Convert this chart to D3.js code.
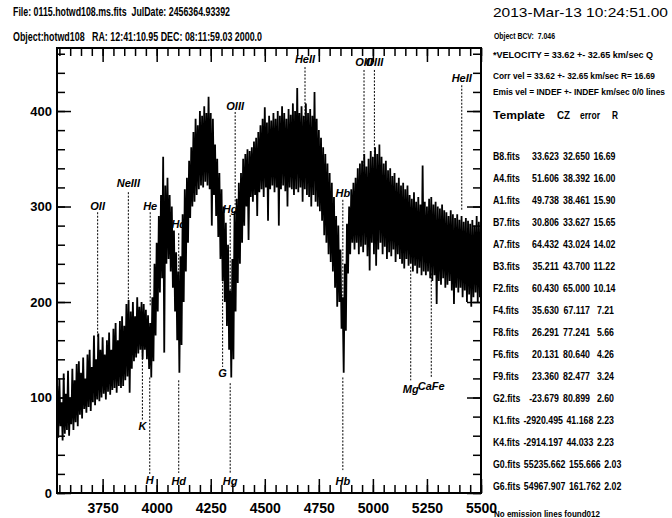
<!DOCTYPE html>
<html>
<head>
<meta charset="utf-8">
<script src="https://cdn.jsdelivr.net/npm/d3@7"></script>
<style>
  body { margin: 0; background: white; }
  svg { display: block; font-family: "Liberation Sans", Arial, sans-serif; }
  text { white-space: pre; }
</style>
</head>
<body>
<div id="chart"></div>
<script>
// spectrum.js: xcsao style cross-correlation plot of hotwd108

// Header and side texts
const fileLine = "File: 0115.hotwd108.ms.fits  JulDate: 2456364.93392";
const dateLine = "2013-Mar-13 10:24:51.00";
const objectLine = "Object:hotwd108   RA: 12:41:10.95 DEC: 08:11:59.03 2000.0";
const bcvLine = "Object BCV:  7.046";
const velLine = "*VELOCITY = 33.62 +- 32.65 km/sec Q";
const corrLine = "Corr vel = 33.62 +- 32.65 km/sec R= 16.69";
const emisLine = "Emis vel = INDEF +- INDEF km/sec 0/0 lines";
const noEmisLine = "No emission lines found012";

// Template table
const tableHeader = ["Template", "CZ", "error", "R"];
const templateNames = ["B8.fits", "A4.fits", "A1.fits", "B7.fits", "A7.fits", "B3.fits", "F2.fits", "F4.fits",
  "F8.fits", "F6.fits", "F9.fits", "G2.fits", "K1.fits", "K4.fits", "G0.fits", "G6.fits"];
const templateCZ = ["33.623", "51.606", "49.738", "30.806", "64.432", "35.211", "60.430", "35.630",
  "26.291", "20.131", "23.360", "-23.679", "-2920.495", "-2914.197", "55235.662", "54967.907"];
const templateErr = ["32.650", "38.392", "38.461", "33.627", "43.024", "43.700", "65.000", "67.117",
  "77.241", "80.640", "82.477", "80.899", "41.168", "44.033", "155.666", "161.762"];
const templateR = ["16.69", "16.00", "15.90", "15.65", "14.02", "11.22", "10.14", "7.21",
  "5.66", "4.26", "3.24", "2.60", "2.23", "2.23", "2.03", "2.02"];

// Axis tick labels
const xTickLabels = [3750, 4000, 4250, 4500, 4750, 5000, 5250, 5500];
const yTickLabels = [0, 100, 200, 300, 400];

// Spectrum: one flux value every 5 A starting at 3540 A (100 A per row)
const fluxStart = 3540;
const fluxStep = 5;
const flux = [
  112, 58, 120, 70, 95, 55, 125, 62, 104, 66, 128, 60, 100, 72, 130, 66, 118, 74, 135, 70,
  138, 82, 126, 78, 142, 88, 120, 84, 145, 90, 150, 86, 132, 95, 165, 92, 140, 98, 167, 96,
  150, 100, 163, 104, 145, 98, 160, 106, 168, 103, 150, 108, 172, 110, 178, 105, 160, 112, 180, 110,
  185, 112, 175, 118, 198, 122, 202, 105, 190, 130, 200, 138, 185, 142, 205, 146, 195, 150, 200, 140,
  198, 150, 192, 140, 186, 130, 178, 121, 205, 138, 240, 165, 262, 190, 290, 210, 312, 225, 352, 147,
  322, 240, 330, 245, 312, 232, 300, 215, 275, 190, 252, 160, 232, 126, 248, 155, 292, 200, 318, 232,
  330, 262, 348, 288, 362, 300, 378, 305, 392, 312, 385, 318, 400, 322, 395, 320, 405, 326, 398, 322,
  415, 318, 398, 280, 392, 312, 365, 290, 350, 268, 335, 245, 318, 222, 300, 200, 283, 175, 260, 150,
  212, 121, 245, 140, 295, 190, 308, 220, 325, 240, 335, 262, 350, 280, 355, 300, 360, 265, 358, 310,
  362, 305, 368, 312, 372, 290, 378, 315, 385, 318, 392, 310, 404, 320, 388, 285, 395, 318, 390, 322,
  398, 315, 392, 320, 400, 280, 395, 318, 405, 322, 398, 316, 392, 300, 402, 320, 396, 318, 408, 312,
  400, 318, 424, 315, 398, 320, 405, 305, 395, 318, 408, 312, 398, 310, 402, 300, 395, 312, 420, 305,
  392, 300, 380, 295, 372, 285, 362, 270, 355, 262, 345, 250, 335, 242, 325, 232, 310, 215, 290, 195,
  280, 200, 255, 172, 205, 126, 240, 170, 282, 230, 300, 250, 318, 262, 325, 255, 330, 262, 340, 250,
  345, 258, 348, 252, 355, 260, 342, 248, 350, 233, 358, 262, 352, 250, 362, 238, 355, 255, 365, 262,
  352, 250, 345, 258, 348, 245, 338, 252, 340, 248, 332, 255, 335, 242, 325, 250, 330, 245, 322, 240,
  325, 235, 318, 245, 322, 238, 312, 240, 308, 232, 315, 238, 305, 230, 310, 236, 302, 228, 343, 232,
  305, 228, 300, 232, 308, 225, 310, 222, 302, 228, 305, 198, 300, 222, 298, 218, 302, 225, 296, 215,
  294, 218, 290, 222, 296, 212, 292, 198, 288, 215, 292, 210, 286, 215, 290, 205, 284, 212, 288, 200,
  285, 208, 282, 195, 286, 205, 280, 210, 290, 200, 284, 205, 288
];

// Emission lines marked above the spectrum (label level, line top and line bottom in flux units)
const emisNames = ["OII", "NeIII", "He", "Hd", "Hg", "OIII", "HeII", "Hb", "OIII", "OIII", "HeII"];
const emisWaves = [3727, 3869, 3970, 4102, 4340, 4363, 4686, 4861, 4959, 5007, 5411];
const emisLabel = [296, 320, 296, 278, 293, 401, 450, 310, 447, 447, 430];
const emisTop = [294, 315, 294, 272, 291, 399, 446, 307, 443, 443, 427];
const emisBottom = [163, 202, 195, 178, 199, 300, 380, 199, 341, 349, 296];

// Absorption lines marked below the spectrum
const absNames = ["K", "H", "Hd", "G", "Hg", "Hb", "Mg", "CaFe"];
const absWaves = [3934, 3968, 4102, 4305, 4340, 4861, 5175, 5270];
const absTop = [178, 121, 118, 258, 115, 121, 237, 230];
const absBottom = [76, 19, 21, 132, 21, 24, 118, 121];
const absLabel = [66, 9, 8, 121, 8, 8, 105, 108];

const width = 672;
const height = 518;
const margin = { top: 48, bottom: 25, left: 57, right: 191 };

const svg = d3.select("#chart")
  .append("svg")
  .attr("width", width)
  .attr("height", height);

const x = d3.scaleLinear()
  .domain([3539, 5500])
  .range([margin.left, width - margin.right]);

const y = d3.scaleLinear()
  .domain([0, 466])
  .range([height - margin.bottom, margin.top]);

// helper for the squeezed texts round the plot
function addText(px, py, str, size, len, weight) {
  const t = svg.append("text")
    .attr("x", px)
    .attr("y", py)
    .attr("font-size", size)
    .attr("font-weight", weight || "bold")
    .text(str);
  if (len) {
    t.attr("textLength", len).attr("lengthAdjust", "spacingAndGlyphs");
  }
  return t;
}

function createHeader() {
  addText(13, 16, fileLine, 12, 217);
  addText(493, 17, dateLine, 13.5, 175, "normal");
  addText(13, 41, objectLine, 12, 249);
  addText(494, 39, bcvLine, 8.5, 61);
  addText(493, 58, velLine, 9, 160);
  addText(493, 79, corrLine, 9, 162);
  addText(493, 95, emisLine, 8.8, 172);
  addText(494, 517, noEmisLine, 9, 106);

  // table header, columns
  const headX = [493, 557, 580, 612];
  const headLen = [52, 13, 20, 6];
  tableHeader.forEach((h, i) => addText(headX[i], 119, h, 11.5, headLen[i]));
}

// Table of templates, narrowed glyphs like the original
function createTable() {
  const sx = 0.88;
  const x0 = 493;
  const g = svg.append("g")
    .attr("transform", `translate(${x0},0) scale(${sx},1)`)
    .attr("font-size", 10)
    .attr("font-weight", "bold");

  // right edges of the number columns (page px), turned into local units
  const colRight = [559, 590, 614].map(v => (v - x0) / sx);

  templateNames.forEach((name, i) => {
    const yRow = 160 + i * 22;
    const t = g.append("text").attr("x", 0).attr("y", yRow).text(name);
    let cursor = t.node().getComputedTextLength();
    [templateCZ[i], templateErr[i], templateR[i]].forEach((s, j) => {
      const tt = g.append("text")
        .attr("y", yRow)
        .attr("text-anchor", "end")
        .text(s);
      const w = tt.node().getComputedTextLength();
      const right = Math.max(colRight[j], cursor + 4 + w);
      tt.attr("x", right);
      cursor = right;
    });
  });
}

function createAxes() {
  const majorLen = 14;
  const minorLen = 8;
  const xMinor = d3.range(3550, 5501, 50);
  const yMinor = d3.range(0, 461, 20);

  function styleAxis(g) {
    g.select(".domain").remove();
    g.selectAll("line").attr("stroke", "black").attr("stroke-width", 1.5);
    g.attr("font-family", null);
    g.selectAll("text")
      .attr("font-size", 14)
      .attr("font-weight", "bold")
      .attr("fill", "black");
  }

  // bottom and top
  svg.append("g").attr("transform", `translate(0,${y(0)})`)
    .call(d3.axisBottom(x).tickValues(xMinor).tickSize(-minorLen).tickFormat(""))
    .call(styleAxis);
  svg.append("g").attr("transform", `translate(0,${y(0)})`)
    .call(d3.axisBottom(x).tickValues(xTickLabels).tickSize(-majorLen).tickPadding(10).tickFormat(d3.format("d")))
    .call(styleAxis);
  svg.append("g").attr("transform", `translate(0,${y(466)})`)
    .call(d3.axisTop(x).tickValues(xMinor).tickSize(-minorLen).tickFormat(""))
    .call(styleAxis);
  svg.append("g").attr("transform", `translate(0,${y(466)})`)
    .call(d3.axisTop(x).tickValues(xTickLabels).tickSize(-majorLen).tickFormat(""))
    .call(styleAxis);

  // left and right
  svg.append("g").attr("transform", `translate(${x(3539)},0)`)
    .call(d3.axisLeft(y).tickValues(yMinor).tickSize(-minorLen).tickFormat(""))
    .call(styleAxis);
  svg.append("g").attr("transform", `translate(${x(3539)},0)`)
    .call(d3.axisLeft(y).tickValues(yTickLabels).tickSize(-majorLen).tickPadding(5).tickFormat(d3.format("d")))
    .call(styleAxis)
    .selectAll("text").attr("font-size", 13);
  svg.append("g").attr("transform", `translate(${x(5500)},0)`)
    .call(d3.axisRight(y).tickValues(yMinor).tickSize(-minorLen).tickFormat(""))
    .call(styleAxis);
  svg.append("g").attr("transform", `translate(${x(5500)},0)`)
    .call(d3.axisRight(y).tickValues(yTickLabels).tickSize(-majorLen).tickFormat(""))
    .call(styleAxis);

  // frame
  svg.append("rect")
    .attr("x", x(3539))
    .attr("y", y(466))
    .attr("width", x(5500) - x(3539))
    .attr("height", y(0) - y(466))
    .attr("fill", "none")
    .attr("stroke", "black")
    .attr("stroke-width", 2);
}

function createSpectrum() {
  svg.append("clipPath").attr("id", "plotclip")
    .append("rect")
    .attr("x", x(3539))
    .attr("y", y(466))
    .attr("width", x(5500) - x(3539))
    .attr("height", y(0) - y(466));

  const points = flux.map((f, i) => [fluxStart + i * fluxStep, f]);

  const line = d3.line()
    .x(d => x(d[0]))
    .y(d => y(d[1]));

  // thick enough stroke so the noise reads as a solid band
  svg.append("path")
    .datum(points)
    .attr("clip-path", "url(#plotclip)")
    .attr("d", line)
    .attr("fill", "none")
    .attr("stroke", "black")
    .attr("stroke-width", 1.8);
}

// dashed markers with their italic labels
function createLineMarks(names, waves, tops, bottoms, labels) {
  const g = svg.append("g");
  g.selectAll("line")
    .data(waves)
    .join("line")
    .attr("x1", d => x(d))
    .attr("x2", d => x(d))
    .attr("y1", (d, i) => y(tops[i]))
    .attr("y2", (d, i) => y(bottoms[i]))
    .attr("stroke", "black")
    .attr("stroke-width", 1)
    .attr("stroke-dasharray", "2,1.5");

  g.selectAll("text")
    .data(waves)
    .join("text")
    .attr("x", d => x(d))
    .attr("y", (d, i) => y(labels[i]))
    .attr("text-anchor", "middle")
    .attr("font-size", 11)
    .attr("font-style", "italic")
    .attr("font-weight", "bold")
    .text((d, i) => names[i]);
}

createSpectrum();
createAxes();
createLineMarks(emisNames, emisWaves, emisTop, emisBottom, emisLabel);
createLineMarks(absNames, absWaves, absTop, absBottom, absLabel);
createHeader();
createTable();
</script>
</body>
</html>
